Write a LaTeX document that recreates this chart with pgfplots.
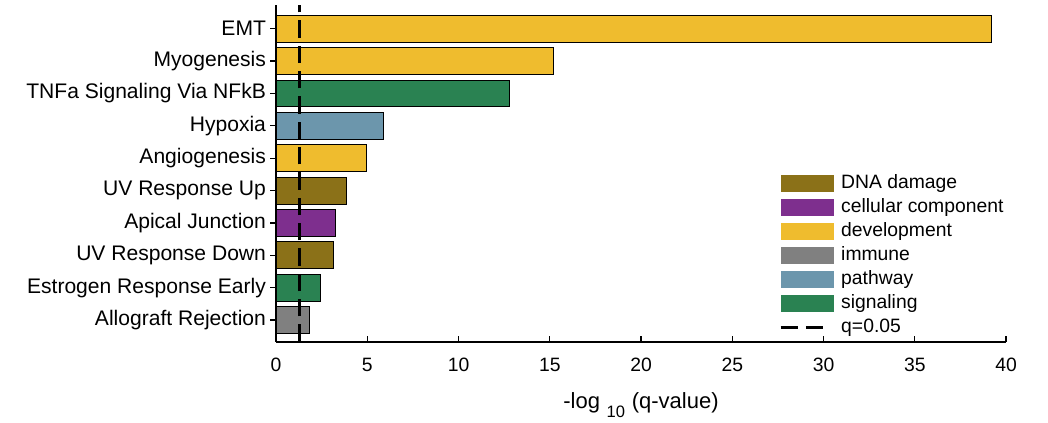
\documentclass[border=0pt]{standalone}
\usepackage{fontspec}
\setmainfont{Liberation Sans}
\usepackage{pgfplots}
\pgfplotsset{compat=1.18}
\definecolor{dnacol}{HTML}{8B7118}
\definecolor{cellcol}{HTML}{7E2F8E}
\definecolor{devcol}{HTML}{EFBC2E}
\definecolor{immcol}{HTML}{808080}
\definecolor{pathcol}{HTML}{6C96AC}
\definecolor{sigcol}{HTML}{2A8252}
\pgfplotsset{barleg/.style={legend image code/.code={\fill[##1,draw=none] (0pt,-6.5pt) rectangle (40pt,6.5pt);}},
  dashleg/.style={legend image code/.code={\draw[##1] (0pt,0pt) -- (34pt,0pt);}}}
\begin{document}
\begin{tikzpicture}[x=1pt,y=1pt]
\useasboundingbox (0,0) rectangle (786,316.5);
\begin{axis}[
  at={(207pt,60.2pt)}, anchor=south west,
  scale only axis, width=547.5pt, height=252.5pt,
  xmin=0, xmax=40, ymin=0.33, ymax=10.73,
  axis x line*=bottom, axis y line*=left,
  axis line style={black, line width=1.3pt, -},
  axis on top,
  xtick={0,5,...,40}, ytick={1,...,10},
  yticklabels={Allograft Rejection, Estrogen Response Early, UV Response Down, Apical Junction, UV Response Up, Angiogenesis, Hypoxia, TNFa Signaling Via NFkB, Myogenesis, EMT},
  tick align=inside, major tick length=4.5pt,
  tick style={black, line width=1pt},
  /pgf/number format/assume math mode=true,
  xticklabel style={font=\fontsize{14.5}{14.5}\selectfont, yshift=-8.5pt},
  yticklabel style={font=\fontsize{15.8}{16}\selectfont, xshift=0.5pt},
  xlabel={-log\hspace{5pt}{\raisebox{-6.75pt}{\fontsize{12.4}{12.4}\selectfont 10}}\hspace{5pt}(q-value)},
  xlabel style={font=\fontsize{16.5}{16.5}\selectfont, yshift=-9pt},
  xbar, bar width=0.83, bar shift=0pt,
  legend style={at={(rel axis cs:0.6886,0.501)}, anchor=north west, draw=none, fill=none, inner sep=0pt,
    font=\fontsize{14.5}{14.5}\selectfont, row sep=2.5pt, column sep=3pt,
    nodes={text height=10.5pt, text depth=3pt, inner ysep=1pt, inner xsep=2.5pt}},
  legend cell align=left,
]
\addplot[barleg, fill=dnacol, draw=black, line width=0.6pt] coordinates {(3.83,5) (3.17,3)};
\addlegendentry{DNA damage}
\addplot[barleg, fill=cellcol, draw=black, line width=0.6pt] coordinates {(3.23,4)};
\addlegendentry{cellular component}
\addplot[barleg, fill=devcol, draw=black, line width=0.6pt] coordinates {(39.2,10) (15.2,9) (4.97,6)};
\addlegendentry{development}
\addplot[barleg, fill=immcol, draw=black, line width=0.6pt] coordinates {(1.83,1)};
\addlegendentry{immune}
\addplot[barleg, fill=pathcol, draw=black, line width=0.6pt] coordinates {(5.9,7)};
\addlegendentry{pathway}
\addplot[barleg, fill=sigcol, draw=black, line width=0.6pt] coordinates {(12.8,8) (2.46,2)};
\addlegendentry{signaling}
\addplot[dashleg, sharp plot, black, line width=2.4pt, dash pattern=on 13pt off 6pt]
  coordinates {(1.301,0.33) (1.301,10.73)};
\addlegendentry{q=0.05}
\end{axis}
\end{tikzpicture}
\end{document}
